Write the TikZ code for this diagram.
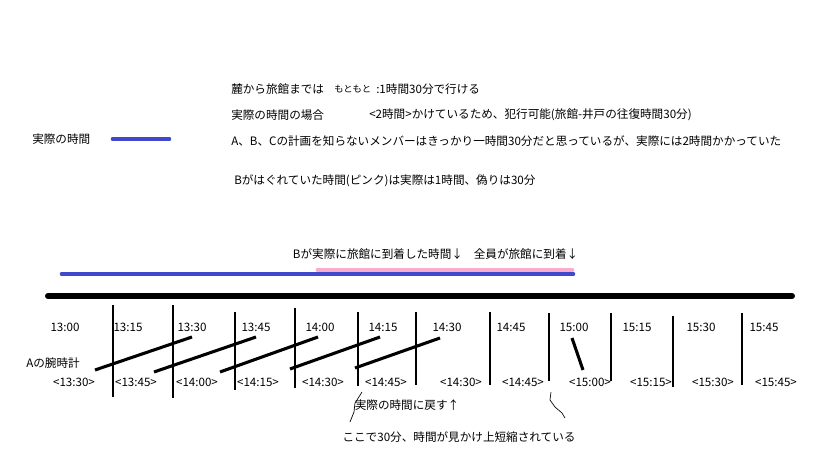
\documentclass[tikz,border=0pt]{standalone}
\usepackage{fontspec}
\setmainfont{Noto Sans CJK JP}
\usepackage{xcolor}
\usetikzlibrary{positioning}
\definecolor{realblue}{RGB}{64,72,204}
\definecolor{fakepink}{RGB}{250,172,204}
\tikzset{
  txt/.style={inner sep=0pt,font=\fontsize{8.7}{10}\selectfont},
  small/.style={inner sep=0pt,font=\fontsize{7}{8}\selectfont},
  tick/.style={black,line width=0.8pt},
  hand/.style={black,line width=2.3pt},
  note/.style={black,line width=0.5pt}
}

\begin{document}
\begin{tikzpicture}[x=0.75pt,y=-0.75pt]
\useasboundingbox (0,0) rectangle (819,460);

% explanation
\node[txt,anchor=west] (fumoto) at (231,89) {麓から旅館までは};
\node[small,anchor=west] (moto) at (334,89) {もともと};
\node[txt,anchor=west] (moto2) at (376,89) {:1時間30分で行ける};
\node[txt,anchor=west] (jissai) at (231,115) {実際の時間の場合};
\node[txt,anchor=west] (hanko) at (369,115) {<2時間>かけているため、犯行可能(旅館-井戸の往復時間30分)};
\node[txt,anchor=west] (member) at (231,141) {A、B、Cの計画を知らないメンバーはきっかり一時間30分だと思っているが、実際には2時間かかっていた};
\node[txt,anchor=west] (pink) at (234,181) {Bがはぐれていた時間(ピンク)は実際は1時間、偽りは30分};

% legend
\node[txt,anchor=west] (legend) at (32,139) {実際の時間};
\draw[realblue,line width=3.5pt,line cap=round] (113,139) -- (169,139);

% bars
\node[txt] (barrive) at (378,254) {Bが実際に旅館に到着した時間↓};
\node[txt] (allarrive) at (526,254) {全員が旅館に到着↓};
\draw[realblue,line width=3.5pt,line cap=round] (62,274) -- (573,274);
\draw[fakepink,line width=3.5pt,line cap=round] (318,270) -- (572,270);
\draw[black,line width=4.5pt,line cap=round] (48,296) -- (792,296);

% ticks
\foreach \x/\a/\b in {113/305/397,173/305/398,235/312/390,295/308/388,358/312/386,416/312/385,490/312/385,549/313/381,611/313/381,673/316/387,742/313/385}
  \draw[tick] (\x,\a) -- (\x,\b);

% watch times and real times
\foreach \x/\t [count=\i] in {65/13:00,128/13:15,192/13:30,256/13:45,320/14:00,383/14:15,447/14:30,511/14:45,574/15:00,637/15:15,701/15:30,764/15:45}
  \node[txt] (watch\i) at (\x,327) {\t};
\foreach \x/\t [count=\i] in {74/13:30,136/13:45,197/14:00,258/14:15,323/14:30,386/14:45,461/14:30,523/14:45,590/15:00,651/15:15,713/15:30,776/15:45}
  \node[txt] (real\i) at (\x,382) {<\t>};
\node[txt,anchor=east] (watch) at (80,363) {Aの腕時計};

\draw[hand] (95,370) -- (192,337);
\draw[hand] (154,372) -- (256,337);
\draw[hand] (220,372) -- (318,337);
\draw[hand] (290,369) -- (380,337);
\draw[hand] (355,368) -- (440,338);
\draw[hand] (572,338) -- (583,370);

% notes
\node[txt] (modosu) at (407,405) {実際の時間に戻す↑};
\node[txt] (tanshuku) at (459,437) {ここで30分、時間が見かけ上短縮されている};
\coordinate (m1) at (362,392);
\coordinate (m2) at (350,422);
\coordinate (s1) at (551,392);
\coordinate (s2) at (565,418);
\draw[note] (m1) -- (357,400) -- (355,403) -- (354,412) -- (m2);
\draw[note] (s1) -- (550,400) -- (555,407) -- (562,413) -- (s2);

\end{tikzpicture}
\end{document}
